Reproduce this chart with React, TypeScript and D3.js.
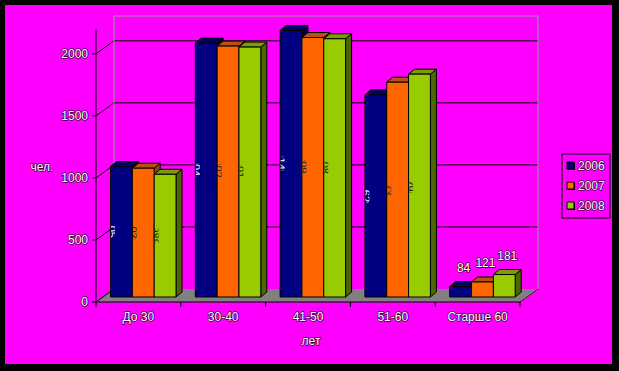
import React from 'react';
import * as d3 from 'd3';

const categories = ['До 30', '30-40', '41-50', '51-60', 'Старше 60'];
const years = ['2006', '2007', '2008'];
const values2006 = [1051, 2046, 2148, 1629, 84];
const values2007 = [1038, 2022, 2091, 1731, 121];
const values2008 = [989, 2014, 2081, 1796, 181];
const yTicks = [0, 500, 1000, 1500, 2000];

const seriesValues = [values2006, values2007, values2008];
const colors = [
  { front: '#000080', top: '#000068', side: '#00004a' },
  { front: '#ff6600', top: '#b8520c', side: '#a04000' },
  { front: '#99cc00', top: '#7a9e00', side: '#4d6600' },
];

const W = 619;
const H = 371;
// oblique depth offsets
const WALL = { dx: 18, dy: -13 };
const BAR_PLANE = { dx: 7, dy: -5 };
const BAR_DEPTH = { dx: 6, dy: -5 };

const textStyle: React.CSSProperties = {
  fontFamily: '"Liberation Sans", Arial, sans-serif',
  fontSize: 12,
  fill: '#ffffff',
  stroke: '#000',
  strokeWidth: 1.4,
  strokeOpacity: 0.8,
  paintOrder: 'stroke',
};

const pts = (p: number[][]) => p.map(d => d.join(',')).join(' ');

const App: React.FC = () => {
  const xCat = d3.scaleBand<string>().domain(categories).range([96, 520]);
  const xSer = d3.scaleBand<string>().domain(years).range([7.5, 73]);
  const y = d3.scaleLinear().domain([0, 2200]).range([302, 29]);

  const x0 = 96;
  const x1 = 520;
  const y0 = y(0);

  const bars: React.ReactNode[] = [];
  const labels: React.ReactNode[] = [];
  const clips: React.ReactNode[] = [];

  categories.forEach((c, ci) => {
    years.forEach((s, si) => {
      const v = seriesValues[si][ci];
      const w = xSer.bandwidth();
      const bx = (xCat(c) ?? 0) + (xSer(s) ?? 0) + BAR_PLANE.dx;
      const top = y(v) + BAR_PLANE.dy;
      const bot = y0 + BAR_PLANE.dy;
      const col = colors[si];
      const { dx, dy } = BAR_DEPTH;
      bars.push(
        <g key={`b-${ci}-${si}`} stroke="#000" strokeWidth={1} strokeLinejoin="round">
          <polygon points={pts([[bx + w, top], [bx + w + dx, top + dy], [bx + w + dx, bot + dy], [bx + w, bot]])} fill={col.side} />
          <polygon points={pts([[bx, top], [bx + w, top], [bx + w + dx, top + dy], [bx + dx, top + dy]])} fill={col.top} />
          <rect x={bx} y={top} width={w} height={bot - top} fill={col.front} />
        </g>
      );
      if (v < 500) {
        labels.push(
          <text key={`l-${ci}-${si}`} x={bx + w / 2 + dx / 2} y={top - 19} textAnchor="middle" dominantBaseline="central" style={textStyle}>
            {v}
          </text>
        );
      } else {
        // labels of the tall bars sit behind the columns, only a sliver shows
        const id = `clip-${ci}-${si}`;
        const mid = (top + bot) / 2;
        clips.push(
          <clipPath id={id} key={id}>
            <rect x={bx + 0.5} y={mid - 7} width={4} height={14} />
          </clipPath>
        );
        labels.push(
          <g key={`l-${ci}-${si}`} clipPath={`url(#${id})`}>
            <text
              x={bx + 1}
              y={mid}
              transform={`rotate(90 ${bx + 1} ${mid})`}
              textAnchor="middle"
              dominantBaseline="central"
              style={{ fontFamily: textStyle.fontFamily, fontSize: 11, fill: si === 0 ? '#fff' : '#222' }}
            >
              {v}
            </text>
          </g>
        );
      }
    });
  });

  return (
    <div style={{ position: 'fixed', left: 0, top: 0 }}>
      <svg width={W} height={H} style={{ display: 'block' }}>
        <defs>{clips}</defs>
        <rect x={0} y={0} width={W} height={H} fill="#000" />
        <rect x={5} y={5} width={607} height={359} fill="#ff00ff" />

        {/* floor */}
        <polygon
          points={pts([[x0, y0], [x1, y0], [x1 + WALL.dx, y0 + WALL.dy], [x0 + WALL.dx, y0 + WALL.dy]])}
          fill="#808080"
        />
        <line x1={x1} y1={y0} x2={x1 + WALL.dx} y2={y0 + WALL.dy} stroke="#000" strokeDasharray="2,1" />

        {/* back wall gridlines */}
        {yTicks.filter(t => t > 0).map(t => (
          <line key={`g-${t}`} x1={x0 + WALL.dx} x2={x1 + WALL.dx} y1={y(t) + WALL.dy} y2={y(t) + WALL.dy} stroke="#000" />
        ))}
        {/* side wall gridlines */}
        {yTicks.map(t => (
          <line key={`s-${t}`} x1={x0} y1={y(t)} x2={x0 + WALL.dx} y2={y(t) + WALL.dy} stroke="#000" />
        ))}
        {/* back wall outline */}
        <polyline
          points={pts([
            [x0 + WALL.dx, y0 + WALL.dy],
            [x0 + WALL.dx, y(2200) + WALL.dy],
            [x1 + WALL.dx, y(2200) + WALL.dy],
            [x1 + WALL.dx, y0 + WALL.dy],
          ])}
          fill="none"
          stroke="#9a9a9a"
        />

        {bars}
        {labels}

        {/* value axis */}
        <line x1={x0} x2={x0} y1={y(2200)} y2={y0} stroke="#000" />
        {yTicks.map(t => (
          <g key={`t-${t}`}>
            <line x1={x0 - 4} x2={x0} y1={y(t)} y2={y(t)} stroke="#000" />
            <text x={x0 - 8} y={y(t)} textAnchor="end" dominantBaseline="central" style={textStyle}>
              {t}
            </text>
          </g>
        ))}
        <text x={42} y={167} textAnchor="middle" dominantBaseline="central" style={textStyle}>
          чел.
        </text>

        {/* category axis */}
        <line x1={x0} x2={x1} y1={y0} y2={y0} stroke="#000" />
        {[...categories.map(c => xCat(c) ?? 0), x1].map((x, i) => (
          <line key={`ct-${i}`} x1={x} x2={x} y1={y0} y2={y0 + 5} stroke="#000" />
        ))}
        {categories.map(c => (
          <text key={c} x={(xCat(c) ?? 0) + xCat.bandwidth() / 2} y={317} textAnchor="middle" dominantBaseline="central" style={textStyle}>
            {c}
          </text>
        ))}
        <text x={311} y={341} textAnchor="middle" dominantBaseline="central" style={textStyle}>
          лет
        </text>

        {/* legend */}
        <rect x={562} y={154} width={48} height={64} fill="#ff00ff" stroke="#000" />
        {years.map((yr, i) => (
          <g key={yr}>
            <rect x={568} y={163 + i * 20} width={7} height={7} fill="#000" />
            <rect x={567} y={162 + i * 20} width={7} height={7} fill={colors[i].front} stroke="#000" />
            <text x={578} y={166 + i * 20} dominantBaseline="central" style={textStyle}>
              {yr}
            </text>
          </g>
        ))}
      </svg>
    </div>
  );
};

export default App;
